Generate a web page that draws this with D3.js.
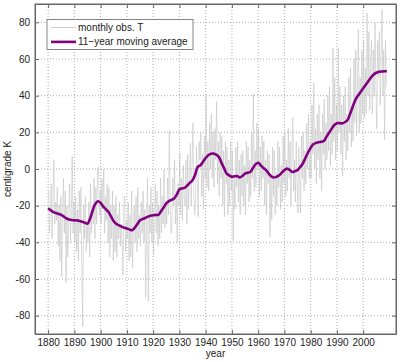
<!DOCTYPE html>
<head>
    <title>Temperature</title>
    <script src="https://cdn.jsdelivr.net/npm/d3@7"></script>
    <style>
        body { margin: 0; background: #fff; }
        text { font-family: "Liberation Sans", Arial, sans-serif; font-size: 10px; fill: #222; }
    </style>
</head>
<body>

<div id="container"></div>

<script>

// Données
const startYear = 1880;
const xTicks = [1880, 1890, 1900, 1910, 1920, 1930, 1940, 1950, 1960, 1970, 1980, 1990, 2000];
const yTicks = [-80, -60, -40, -20, 0, 20, 40, 60, 80];
const legendLabels = ["monthly obs. T", "11\u2212year moving average"];

// observations, 3 valeurs par an (1880-2008)
const monthlyObs = [
    -12, -35, -20,  -8, -38, -15,   5, -30, -18, -28, -10, -42, -20, -50, -15,
    -59, -22,  -5, -35, -12, -62, -20, -48, -30,  -8, -40, -25,   7, -35, -18,
    -40, -15, -45, -22, -50, -12, -35, -10, -55, -86, -20, -38, -15, -45, -28,
    -40, -18, -48,  -8, -35, -20, -30,  -5, -38, -10, -30,   0,   1, -25, -12,
    -30,  -5, -22,   0, -35, -15, -28,  -8, -40, -10, -48, -20, -38, -12, -50,
    -20, -45, -15, -48, -25, -38, -18, -42, -30, -40, -58, -20, -15, -45, -28,
    -38, -18, -50, -25, -48, -12, -54, -30, -20, -40, -15, -45, -10, -38, -25,
    -42, -18, -35, -12, -40, -22, -70, -30,  -5, -72, -20, -35, -10, -40, -18,
    -47, -25,  -8, -35, -12, -42, -20, -38,  -5, -35, -15, -30,   0, -32, -18,
    -30,  -5, -25,  21, -20, -35, -28,  -5, -20,   5, -30, -12, -40,  -8, -20,
      9, -25,  -5, -28,   2, -15, -20,   5, -30,   8, -22,  -5,  14, -20,   3,
     25, -15, -25, -18,  12,  -5, -26,  15,   5,  20, -15,   8, -22,  18,  -5,
     40, -10,  15, -12,  25,   0,  30,  -5,  20, -10,  22,   5,  37,  -8,  15,
    -15,  20,  -5,  18, -20,  10, -26,  15,  -8,  12, -25,   5, -20,  15, -12,
     10, -39,  -5, -22,  12, -10,  15, -18,   5, -25,   8, -15,  10, -20,   2,
    -25,  15,  -8,  12, -18,   5, -15,  20,  -5,  41, -12,  10, -10,  25,   0,
     22, -15,  12, -12,  18,  -5,  15, -20,   5, -25,  10,  -8,   8, -37,  -5,
    -28,  12, -15,  10, -25,  -2, -20,  15, -10,  12, -22,   2, -18,  18,  -8,
     20, -15,   5, -12,  22,  -5,  15, -20,   8,  28, -12,   5, -18,  15,  -8,
    -24,  12,  -5, -24,  18,  -5,  20, -12,  10,  -8,  25,   0,  30,  -5,  15,
     -5,  35,   8,  47,   0,  22,  -8,  30,   5,  35,  -5,  20, -12,  30,   8,
     38,   0,  25,   5,  40,  10,  45,   2,  30,   8,  66,  15,  50,   5,  35,
     10,  66,  20,  45,   8,  35,  -4,  40,  15,  45,   5,  30,  10,  50,  20,
     55,  12,  35,  15,  60,  25,  65,  18,  45,  76,  20,  50,  25,  65,  30,
     70,  28,  55,  30,  85,  40,  75,  32,  60,  70,  30,  65,  40,  80,  45,
     22,  70,  50,  75,  35,  60,  87,  40,  65,  16,  70,  45
];

// moyenne glissante, 1 valeur par an (1880-2009)
const movingAvg = [
    -21.5, -22.5, -23.5, -24, -24.5, -25, -26, -27, -27.5, -27.8,
    -28, -28, -28.3, -28.8, -29.3, -29.8, -27, -22.5, -19, -17.6,
    -18.5, -20.5, -22, -23.5, -26, -28.5, -30, -30.7, -31.5, -32,
    -32.5, -33, -33.4, -32, -30, -28, -27.3, -26.7, -26, -25.5,
    -25.2, -25, -25, -23, -21, -18.8, -17.5, -16.8, -16.1, -14,
    -11.2, -10.6, -10.3, -9, -7.5, -6.1, -3, 1.2, 2, 4,
    6, 7.5, 8.3, 8.4, 7.8, 6.6, 3.5, 0.5, -2.5, -3.5,
    -4.3, -4, -3.9, -4.6, -3.8, -2.5, -2, -1.6, 0.5, 2.5,
    3.4, 2, 0.5, -0.6, -2.5, -4, -4.6, -4.2, -3.4, -2,
    -0.6, 0.2, -0.5, -1.6, -1.2, -0.6, 1, 3, 6, 9,
    11.5, 13.5, 14.2, 14.6, 14.8, 15.3, 17.5, 19.8, 22, 24,
    25, 25, 24.9, 25.5, 26.6, 30, 34, 37.6, 40, 42,
    44, 46, 48, 50, 51.5, 52.5, 53, 53.2, 53.3, 53.4
];

const width = 400;
const height = 362;
const marginTop = 4;
const marginRight = 4;
const marginBottom = 28;
const marginLeft = 35;

const svg = d3.create("svg")
    .attr("width", width)
    .attr("height", height);

const x = d3.scaleLinear()
    .domain([1875, 2012.5])
    .range([marginLeft, width - marginRight]);

const y = d3.scaleLinear()
    .domain([-90, 90])
    .range([height - marginBottom, marginTop]);

// grille pointillée
svg.append("g")
    .selectAll("line")
    .data(xTicks)
    .join("line")
    .attr("x1", d => x(d)).attr("x2", d => x(d))
    .attr("y1", marginTop).attr("y2", height - marginBottom)
    .attr("stroke", "#999")
    .attr("stroke-width", 0.8)
    .attr("stroke-dasharray", "1,2");

svg.append("g")
    .selectAll("line")
    .data(yTicks)
    .join("line")
    .attr("x1", marginLeft).attr("x2", width - marginRight)
    .attr("y1", d => y(d)).attr("y2", d => y(d))
    .attr("stroke", "#999")
    .attr("stroke-width", 0.8)
    .attr("stroke-dasharray", "1,2");

// courbes
const obsLine = d3.line()
    .x((d, i) => x(startYear + (i + 0.5) / 3))
    .y(d => y(d));

svg.append("path")
    .datum(monthlyObs)
    .attr("d", obsLine)
    .attr("fill", "none")
    .attr("stroke", "#c4c4c4")
    .attr("stroke-width", 0.6);

const avgLine = d3.line()
    .x((d, i) => x(startYear + i))
    .y(d => y(d))
    .curve(d3.curveCatmullRom);

svg.append("path")
    .datum(movingAvg)
    .attr("d", avgLine)
    .attr("fill", "none")
    .attr("stroke", "#800080")
    .attr("stroke-width", 2.6)
    .attr("stroke-linejoin", "round");

// axes
svg.append("g")
    .attr("transform", `translate(0,${height - marginBottom})`)
    .call(d3.axisBottom(x).tickValues(xTicks).tickFormat(d3.format("d")).tickSizeInner(-4).tickSizeOuter(0).tickPadding(5));
svg.append("g")
    .attr("transform", `translate(${marginLeft},0)`)
    .call(d3.axisLeft(y).tickValues(yTicks).tickFormat(d => String(d)).tickSizeInner(-4).tickSizeOuter(0).tickPadding(5));
svg.append("g")
    .attr("transform", `translate(0,${marginTop})`)
    .call(d3.axisTop(x).tickValues(xTicks).tickFormat("").tickSizeInner(-4).tickSizeOuter(0));
svg.append("g")
    .attr("transform", `translate(${width - marginRight},0)`)
    .call(d3.axisRight(y).tickValues(yTicks).tickFormat("").tickSizeInner(-4).tickSizeOuter(0));

svg.selectAll(".domain").attr("stroke", "#666");
svg.selectAll(".tick line").attr("stroke", "#666");
svg.selectAll(".tick text")
    .attr("font-family", "Liberation Sans, Arial, sans-serif")
    .attr("font-size", 10)
    .attr("fill", "#222");

// cadre
svg.append("rect")
    .attr("x", marginLeft).attr("y", marginTop)
    .attr("width", width - marginRight - marginLeft)
    .attr("height", height - marginBottom - marginTop)
    .attr("fill", "none")
    .attr("stroke", "#666")
    .attr("stroke-width", 1);

// titres des axes
svg.append("text")
    .attr("x", (marginLeft + width - marginRight) / 2)
    .attr("y", 357)
    .attr("text-anchor", "middle")
    .text("year");

svg.append("text")
    .attr("transform", `translate(11,${(marginTop + height - marginBottom) / 2}) rotate(-90)`)
    .attr("text-anchor", "middle")
    .text("centigrade K");

// légende
const legend = svg.append("g")
    .attr("transform", "translate(47,19.5)");

legend.append("rect")
    .attr("width", 146)
    .attr("height", 30)
    .attr("fill", "#fff")
    .attr("stroke", "#666")
    .attr("stroke-width", 0.8);

const legendStyles = [
    {color: "#c4c4c4", w: 0.8},
    {color: "#800080", w: 2.6}
];

legend.selectAll("line")
    .data(legendLabels)
    .join("line")
    .attr("x1", 4).attr("x2", 29)
    .attr("y1", (d, i) => 8 + i * 14.4)
    .attr("y2", (d, i) => 8 + i * 14.4)
    .attr("stroke", (d, i) => legendStyles[i].color)
    .attr("stroke-width", (d, i) => legendStyles[i].w);

legend.selectAll("text")
    .data(legendLabels)
    .join("text")
    .attr("x", 31)
    .attr("y", (d, i) => 11.5 + i * 14.4)
    .text(d => d);

container.append(svg.node());

</script>

</body>
